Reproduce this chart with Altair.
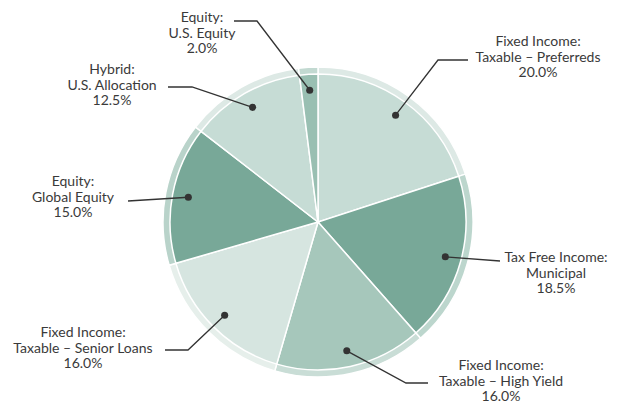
import math
import altair as alt
import pandas as pd

# ---- data ----
categories = [
    "Fixed Income: Taxable – Preferreds",
    "Tax Free Income: Municipal",
    "Fixed Income: Taxable – High Yield",
    "Fixed Income: Taxable – Senior Loans",
    "Equity: Global Equity",
    "Hybrid: U.S. Allocation",
    "Equity: U.S. Equity",
]
values = [20.0, 18.5, 16.0, 16.0, 15.0, 12.5, 2.0]
label_lines = [
    ["Fixed Income:", "Taxable – Preferreds"],
    ["Tax Free Income:", "Municipal"],
    ["Fixed Income:", "Taxable – High Yield"],
    ["Fixed Income:", "Taxable – Senior Loans"],
    ["Equity:", "Global Equity"],
    ["Hybrid:", "U.S. Allocation"],
    ["Equity:", "U.S. Equity"],
]
fill_colors = ["#c6dcd5", "#78a898", "#a6c7bb", "#d6e5e0", "#78a898", "#c6dcd5", "#99bfb2"]
ring_colors = ["#dde9e5", "#bcd6cd", "#c9ddd6", "#e6efeb", "#b9d3ca", "#dde9e5", "#c2d9d1"]

# ---- layout (plot-area pixels) ----
W, H = 602, 397
CX, CY = 310, 214
R_OUT, R_IN, R_DOT = 155, 148, 132
# leader line bend and end points, label centre (x, first-line y)
bends = [(430, 52), (492, 253), (398, 375), (180, 342), (120, 193), (184, 79), (249, 13)]
ends = [(460, 52), (492, 253), (420, 375), (157, 342), (120, 193), (160, 79), (226, 13)]
label_pos = [(530, 34), (548, 250), (493, 358), (75, 325), (65, 174), (104, 62), (194, 10)]

order = list(range(len(categories)))
pie_df = pd.DataFrame({"cat": categories, "val": values, "ord": order,
                       "fill": fill_colors, "ring": ring_colors})

# dot positions derived from the data (mid angle of each slice)
total = sum(values)
cum = 0.0
dots = []
for v in values:
    mid = (cum + v / 2) / total * 2 * math.pi
    cum += v
    dots.append((CX + R_DOT * math.sin(mid), CY - R_DOT * math.cos(mid)))

line_rows, dot_rows, text_rows = [], [], []
for i, c in enumerate(categories):
    pts = [dots[i], bends[i], ends[i]]
    for k, (px, py) in enumerate(pts):
        line_rows.append({"cat": c, "k": k, "px": px, "py": py})
    dot_rows.append({"cat": c, "px": dots[i][0], "py": dots[i][1]})
    text_rows.append({"cat": c, "px": label_pos[i][0], "py": label_pos[i][1],
                      "txt": label_lines[i] + [f"{values[i]:.1f}%"]})
line_df = pd.DataFrame(line_rows)
dot_df = pd.DataFrame(dot_rows)
text_df = pd.DataFrame(text_rows)

xs = alt.Scale(domain=[0, W], range=[0, W])
ys = alt.Scale(domain=[0, H], range=[0, H])

ring = alt.Chart(pie_df).mark_arc(radius=R_OUT, stroke="white", strokeWidth=1.5).encode(
    theta=alt.Theta("val:Q", stack=True),
    order=alt.Order("ord:Q"),
    color=alt.Color("ring:N", scale=None),
    x=alt.value(CX), y=alt.value(CY),
)
pie = alt.Chart(pie_df).mark_arc(radius=R_IN, stroke="white", strokeWidth=1.5).encode(
    theta=alt.Theta("val:Q", stack=True),
    order=alt.Order("ord:Q"),
    color=alt.Color("fill:N", scale=None),
    x=alt.value(CX), y=alt.value(CY),
)
lines = alt.Chart(line_df).mark_line(color="#333333", strokeWidth=1.3).encode(
    x=alt.X("px:Q", scale=xs, axis=None),
    y=alt.Y("py:Q", scale=ys, axis=None),
    detail="cat:N",
    order="k:Q",
)
pts = alt.Chart(dot_df).mark_circle(color="#333333", opacity=1, size=50).encode(
    x=alt.X("px:Q", scale=xs, axis=None),
    y=alt.Y("py:Q", scale=ys, axis=None),
)
texts = alt.Chart(text_df).mark_text(
    font="Lato", fontSize=14, color="#3a3a3a", align="center", baseline="middle",
    lineHeight=15.5,
).encode(
    x=alt.X("px:Q", scale=xs, axis=None),
    y=alt.Y("py:Q", scale=ys, axis=None),
    text="txt",
)

chart = alt.layer(ring, pie, lines, pts, texts).properties(
    width=W, height=H, padding=0, autosize=alt.AutoSizeParams(type="none")
).configure_view(stroke=None)

chart.save("out.html", embed_options={"renderer": "svg", "actions": False})
